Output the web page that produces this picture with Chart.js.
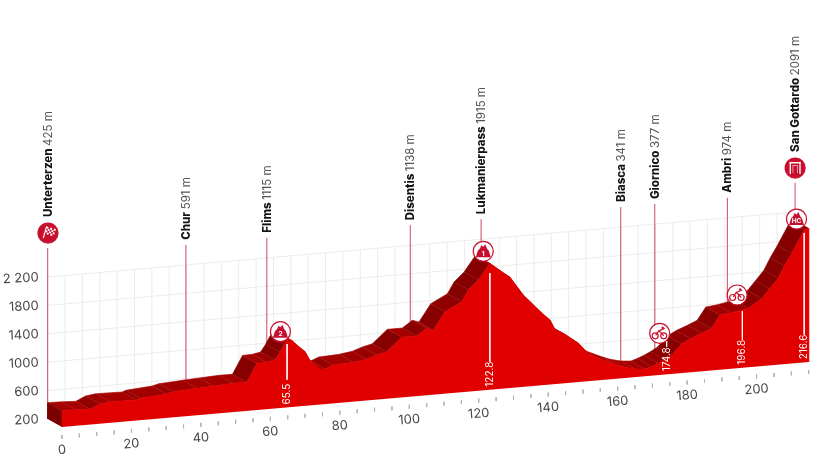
<!DOCTYPE html>
<html>
<head>
<meta charset="utf-8">
<script src="https://cdn.jsdelivr.net/npm/chart.js@4/dist/chart.umd.min.js"></script>
<style>html,body{margin:0;padding:0;background:#fff}canvas{display:block}</style>
</head>
<body>
<canvas id="c" width="825" height="459"></canvas>
<script>
const profileKm = [0,4,8.1,10.9,13.8,21.5,22.5,30.1,32,38.8,43.6,49.3,53.2,56.1,58.9,61.3,62.8,63.9,64.9,66.2,67.6,70,71.2,72.7,74.3,75.7,78.1,83.9,87.7,90.6,93.5,97.8,102.1,105,106.9,110.3,115.1,117,119.9,123.2,126,129,132.8,134.8,136.7,138.5,140.5,142,144.8,148.7,151.5,154.4,159.7,162,165,167.9,169.8,171.7,173.6,175.6,178.4,181,184.2,187,189.5,192.8,197.6,201.5,203.8,206.2,208,210.1,213.7,215];
const profileElev = [430,425,414,477,497,489,508,537,560,580,591,605,603,857,860,881,988,1085,1159,1135,1067,962,850,770,700,694,741,753,780,828,862,1046,1046,1142,1111,1353,1474,1631,1759,1980,1870,1759,1493,1390,1290,1200,1108,962,889,745,593,510,393,350,314,301,330,366,410,466,608,675,735,793,970,988,1029,1153,1280,1415,1580,1750,2063,2082];

const elevTicks = [200,600,1000,1400,1800,2200];
const elevTickLabels = ['200','600','1000','1400','1800','2 200'];
const kmLabelTicks = [0,20,40,60,80,100,120,140,160,180,200];
const kmMinorTicks = [0,5,10,15,20,25,30,35,40,45,50,55,60,65,70,75,80,85,90,95,100,105,110,115,120,125,130,135,140,145,150,155,160,165,170,175,180,185,190,195,200,205,210,215];

const stationNames = ['Unterterzen','Chur','Flims','Disentis','Lukmanierpass','Biasca','Giornico','Ambri','San Gottardo'];
const stationElev  = ['425 m','591 m','1115 m','1138 m','1915 m','341 m','377 m','974 m','2091 m'];
const stationKm    = [0,39.8,63.1,104.4,124.8,165,174.8,195.7,215.2];
const stationTop   = [2608,2483,2483,2483,2483,2483,2483,2483,2608];

const markerLabels = ['65.5','122.8','174.8','196.8','216.6'];
const markerKm     = [64.8,123.2,174.1,195.9,213.7];
const markerTop    = [1093,1844,669,999,2023];

const komKm   = [62.9,121.3,211.5];
const komElev = [1275,2158,2228];
const komText = ['2','1','HC'];
const bikeKm   = [172.1,194.4];
const bikeElev = [786,1231];
const flagKm   = [-4.03,211.1];
const flagElev = [2948,2948];

const RED='#c8102e', FRONT='#e00000', TXT='#474747';
const PXKM=3.473, PXM=0.071, SHEAR=4.26, OFFS=-98.6, DKM=-4.12, DM=112.7, FLOOR=200;
const fr=(k,e)=>({x:k,y:e+SHEAR*k+OFFS});
const bk=(k,e)=>({x:k+DKM,y:e+SHEAR*k+OFFS+DM});
const gap={x:NaN,y:NaN};
const line=(data,color,width,extra)=>Object.assign({type:'scatter',data,showLine:true,pointRadius:0,borderColor:color,borderWidth:width,spanGaps:false,fill:false},extra||{});
const poly=(data,color)=>({type:'scatter',data,showLine:true,pointRadius:0,borderColor:color,backgroundColor:color,borderWidth:0.6,fill:'shape'});

function shade(i){
  const dx=(profileKm[i+1]-profileKm[i])*PXKM;
  const dy=(profileElev[i+1]-profileElev[i])*PXM+0.3025*(profileKm[i+1]-profileKm[i]);
  const t=Math.max(0,Math.min(1,dy/dx/0.9));
  const r=Math.round(168-t*34);
  return 'rgb('+r+',0,0)';
}

const gridData=[];
elevTicks.slice(1).forEach(e=>{gridData.push(bk(0,e),bk(215,e),gap);});
kmMinorTicks.forEach(k=>{gridData.push(bk(k,FLOOR),bk(k,2200),gap);});
const tickData=[];
kmMinorTicks.forEach(k=>{tickData.push(fr(k,88),fr(k,32),gap);});
const stemData=[];
stationKm.forEach((k,i)=>{stemData.push(bk(k,FLOOR-1),bk(k,stationTop[i]),gap);});
const whiteData=[];
markerKm.forEach((k,i)=>{whiteData.push(fr(k,markerTop[i]),fr(k,590),gap);});

const frontPoly=[fr(0,FLOOR)].concat(profileKm.map((k,i)=>fr(k,profileElev[i])),[fr(215,FLOOR)]);
const stripSets=[];
for(let i=0;i<profileKm.length-1;i++){
  const a=profileKm[i],b=profileKm[i+1],ea=profileElev[i],eb=profileElev[i+1];
  stripSets.push(poly([fr(a,ea),fr(b,eb),bk(b,eb),bk(a,ea)],shade(i)));
}
const wall=poly([fr(0,FLOOR),fr(0,profileElev[0]),bk(0,profileElev[0]),bk(0,FLOOR)],'#7c0000');

const komPts=komKm.map((k,i)=>fr(k,komElev[i]));
const bikePts=bikeKm.map((k,i)=>fr(k,bikeElev[i]));
const flagPts=flagKm.map((k,i)=>fr(k,flagElev[i]));
const pts=(data,bg)=>({type:'scatter',data,pointRadius:10,pointBorderWidth:1.2,pointBackgroundColor:bg,pointBorderColor:RED});

function mountain(c,x,y,t){
  c.fillStyle=RED;c.beginPath();
  c.moveTo(x-7.5,y+6);c.lineTo(x-5.5,y-0.5);c.lineTo(x-3.2,y-3);c.lineTo(x-2,y-6);c.lineTo(x,y-4.5);c.lineTo(x+2,y-7);c.lineTo(x+3.5,y-3);c.lineTo(x+5.5,y-0.5);c.lineTo(x+7.5,y+6);c.closePath();c.fill();
  c.fillStyle='#fff';c.font='700 6.5px Inter';c.textAlign='center';c.textBaseline='middle';c.fillText(t,x,y+2.5);
}
function bike(c,x,y){
  c.strokeStyle=RED;c.fillStyle=RED;c.lineWidth=1.2;
  c.beginPath();c.arc(x-4.5,y+2.5,3,0,7);c.stroke();
  c.beginPath();c.arc(x+4,y+2.5,3,0,7);c.stroke();
  c.beginPath();c.moveTo(x-4,y+2);c.lineTo(x-1,y-2.5);c.lineTo(x+2,y+0);c.lineTo(x+4,y+2.5);c.moveTo(x-1,y-2.5);c.lineTo(x+5,y-5);c.stroke();
  c.beginPath();c.arc(x+3,y-5.6,1.2,0,7);c.fill();
}
function flag(c,x,y){
  c.save();c.translate(x,y);c.rotate(0.28);c.fillStyle='#fff';
  for(let i=0;i<5;i++)for(let j=0;j<4;j++)if((i+j)%2==0)c.fillRect(-3+i*1.9,-6+j*1.9,1.9,1.9);
  c.strokeStyle='#fff';c.lineWidth=1.1;c.beginPath();c.moveTo(-3.2,-6);c.lineTo(-3.2,6);c.stroke();c.restore();
}
function finish(c,x,y){
  c.fillStyle='#fff';
  c.fillRect(x-5.5,y-6,11,1.4);
  c.fillRect(x-5.5,y-6,1.3,12);c.fillRect(x+4.2,y-6,1.3,12);
  c.fillStyle='rgba(255,255,255,0.55)';
  c.fillRect(x-2.8,y-3,5.6,8);
  c.fillStyle=RED;c.fillRect(x-1.8,y-2,3.6,7);
}
function rotText(c,parts,x,y,ang,align){
  c.save();c.translate(x,y);c.rotate(ang);c.textBaseline='middle';c.textAlign='left';
  let w=0;parts.forEach(p=>{c.font=p.font;w+=c.measureText(p.t).width;});
  let pos=align==='center'?-w/2:align==='right'?-w:0;
  parts.forEach(p=>{c.font=p.font;c.fillStyle=p.color;c.fillText(p.t,pos,0);pos+=c.measureText(p.t).width;});
  c.restore();
}
const artwork={id:'artwork',afterDatasetsDraw(ch){
  const c=ch.ctx,X=ch.scales.x,Y=ch.scales.y;
  const px=p=>({x:X.getPixelForValue(p.x),y:Y.getPixelForValue(p.y)});
  komPts.forEach((p,i)=>{const q=px(p);mountain(c,q.x,q.y,komText[i]);});
  bikePts.forEach(p=>{const q=px(p);bike(c,q.x,q.y);});
  let q=px(flagPts[0]);flag(c,q.x,q.y);
  q=px(flagPts[1]);finish(c,q.x,q.y);
  stationNames.forEach((n,i)=>{
    const base=px(bk(stationKm[i],stationTop[i]));
    const off=(i===0||i===8)?31:5;
    rotText(c,[{t:n+' ',font:'800 11.5px Inter',color:'#141414'},{t:stationElev[i],font:'400 11.5px Inter',color:'#555'}],base.x+0.5,base.y-off,-Math.PI/2,'left');
  });
  markerLabels.forEach((t,i)=>{
    const b=px(fr(markerKm[i],200));
    rotText(c,[{t,font:'400 10px Inter',color:'#fff'}],b.x,b.y-3,-Math.PI/2,'left');
  });
  const ang=-0.075;
  elevTicks.forEach((e,i)=>{
    const b=px(bk(0,e));
    rotText(c,[{t:elevTickLabels[i],font:'400 13px Inter',color:TXT}],b.x-9,b.y+0.5,-0.05,'right');
  });
  kmLabelTicks.forEach(k=>{
    const b=px(fr(k,-124));
    rotText(c,[{t:String(k),font:'400 13px Inter',color:TXT}],b.x,b.y,ang,'center');
  });
}};

const datasets=[
  pts(flagPts,RED),
  pts(komPts,'#fff'),
  pts(bikePts,'#fff'),
  line(whiteData,'rgba(255,255,255,0.9)',1),
  poly(frontPoly,FRONT),
  wall
].concat(stripSets.slice().reverse(),[
  line(stemData,'#cf4a5c',1),
  line(tickData,'#b5b5b5',1),
  line(gridData,'#ececec',1)
]);

new Chart(document.getElementById('c'),{
  type:'scatter',
  data:{datasets},
  options:{
    responsive:false,animation:false,
    layout:{padding:0,autoPadding:false},
    plugins:{legend:{display:false},tooltip:{enabled:false}},
    scales:{
      x:{type:'linear',display:false,offset:false,min:-62/PXKM,max:(825-62)/PXKM},
      y:{type:'linear',display:false,offset:false,min:-349.3,max:-349.3+459/PXM}
    }
  },
  plugins:[artwork]
});
</script>
</body>
</html>
